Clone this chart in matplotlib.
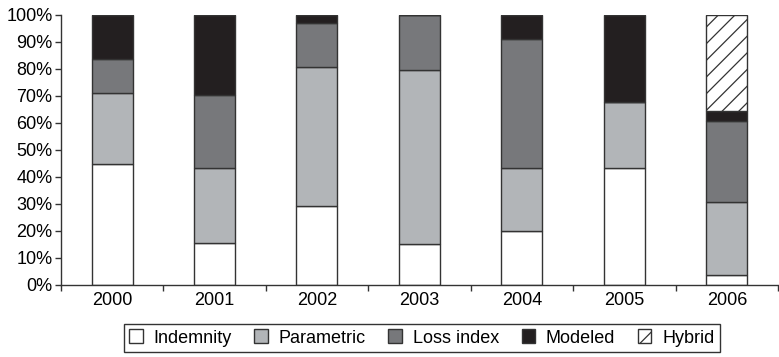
import numpy as np
import matplotlib.pyplot as plt
from matplotlib.ticker import PercentFormatter

plt.rcParams['font.family'] = ['Liberation Sans', 'DejaVu Sans']
plt.rcParams['hatch.linewidth'] = 0.9

years = ['2000', '2001', '2002', '2003', '2004', '2005', '2006']
indemnity = [44.7, 15.7, 29.3, 15.3, 20.1, 43.2, 3.8]
parametric = [26.3, 27.7, 51.4, 64.3, 23.3, 24.5, 26.9]
loss_index = [12.8, 27.1, 16.2, 20.4, 47.6, 0.0, 29.9]
modeled = [16.2, 29.5, 3.1, 0.0, 9.0, 32.3, 3.8]
hybrid = [0.0, 0.0, 0.0, 0.0, 0.0, 0.0, 35.6]

series = [
    ('Indemnity', indemnity, 'white', ''),
    ('Parametric', parametric, '#b2b5b8', ''),
    ('Loss index', loss_index, '#77787b', ''),
    ('Modeled', modeled, '#231f20', ''),
    ('Hybrid', hybrid, 'white', '//'),
]

fig = plt.figure(figsize=(7.79, 3.57), dpi=100)
ax = fig.add_axes([0.078, 0.2017, 0.921, 0.7563])

x = np.arange(len(years))
bottom = np.zeros(len(years))
handles = []
for name, vals, color, hatch in series:
    vals = np.array(vals)
    b = ax.bar(x, vals, width=0.4, bottom=bottom, color=color, edgecolor='#333333',
               linewidth=1.0, hatch=hatch, label=name)
    handles.append(b)
    bottom += vals

ax.set_xlim(-0.5, 6.5)
ax.set_ylim(0, 100)
ax.set_yticks(np.arange(0, 101, 10))
ax.yaxis.set_major_formatter(PercentFormatter(decimals=0))
ax.set_xticks(x)
ax.set_xticklabels(years)
ax.set_xticks(np.arange(-0.5, 6.6, 1), minor=True)
ax.tick_params(axis='x', which='major', length=0, pad=5, labelsize=13)
ax.tick_params(axis='x', which='minor', length=4, width=1, color='#333333')
ax.tick_params(axis='y', length=4, width=1, color='#333333', labelsize=13, pad=2)
ax.spines['top'].set_visible(False)
ax.spines['right'].set_visible(False)
for s in ['left', 'bottom']:
    ax.spines[s].set_color('#333333')
    ax.spines[s].set_linewidth(1.0)

leg = fig.legend(handles=handles, loc='upper center', bbox_to_anchor=(0.5415, 0.0924),
                 ncol=5, frameon=True, fancybox=False, edgecolor='black', fontsize=13,
                 handlelength=0.75, handleheight=0.8, handletextpad=0.6,
                 columnspacing=1.25, borderpad=0.3, borderaxespad=0)
leg.get_frame().set_linewidth(1.0)

fig.savefig('out.png', dpi=100)
